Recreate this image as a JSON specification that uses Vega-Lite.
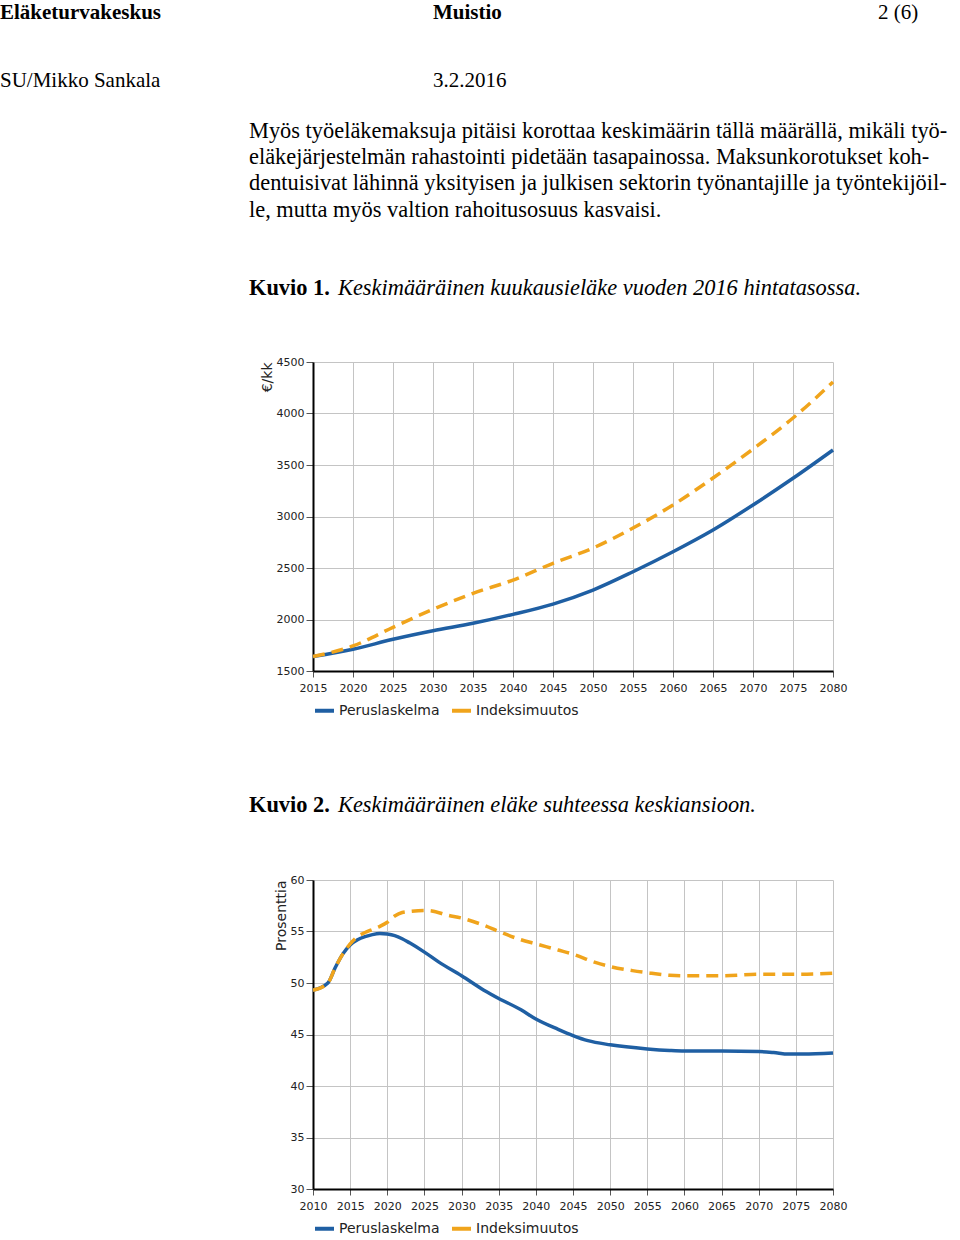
{
  "$schema": "https://vega.github.io/schema/vega-lite/v6.json",
  "background": "white",
  "padding": 0,
  "spacing": 209,
  "bounds": "flush",
  "resolve": {"legend": {"color": "independent"}},
  "vconcat": [
    {
      "width": 647,
      "height": 153,
      "data": {"values": [
        {"text": "Eläketurvakeskus", "role": "heading", "tab": 0, "line": 1},
        {"text": "Muistio", "role": "heading", "tab": 3, "line": 1},
        {"text": "2 (6)", "role": "plain", "tab": 4, "line": 1},
        {"text": "SU/Mikko Sankala", "role": "plain", "tab": 0, "line": 2},
        {"text": "3.2.2016", "role": "plain", "tab": 3, "line": 2},
        {"text": "Myös työeläkemaksuja pitäisi korottaa keskimäärin tällä määrällä, mikäli työ-", "role": "body", "tab": 1, "line": 3},
        {"text": "eläkejärjestelmän rahastointi pidetään tasapainossa. Maksunkorotukset koh-", "role": "body", "tab": 1, "line": 4},
        {"text": "dentuisivat lähinnä yksityisen ja julkisen sektorin työnantajille ja työntekijöil-", "role": "body", "tab": 1, "line": 5},
        {"text": "le, mutta myös valtion rahoitusosuus kasvaisi.", "role": "body", "tab": 1, "line": 6},
        {"text": "Kuvio 1.", "role": "label", "tab": 1, "line": 9},
        {"text": "Keskimääräinen kuukausieläke vuoden 2016 hintatasossa.", "role": "caption", "tab": 2, "line": 9},
        {"text": "Kuvio 2.", "role": "label", "tab": 1, "line": 29},
        {"text": "Keskimääräinen eläke suhteessa keskiansioon.", "role": "caption", "tab": 2, "line": 29}
      ]},
      "encoding": {
        "x": {"field": "tab", "type": "quantitative", "axis": null, "scale": {"domain": [0, 1, 2, 3, 4], "range": [-313, -64, 25, 120, 565]}},
        "y": {"field": "line", "type": "quantitative", "axis": null, "scale": {"domain": [1, 2, 3, 9, 29], "range": [19, 87, 138, 295, 812]}},
        "text": {"field": "text"}
      },
      "layer": [
        {"transform": [{"filter": "datum.role == 'heading'"}],
         "mark": {"type": "text", "align": "left", "baseline": "alphabetic", "font": "Liberation Serif", "fontSize": 21, "fontWeight": "bold", "color": "#000"}},
        {"transform": [{"filter": "datum.role == 'plain'"}],
         "mark": {"type": "text", "align": "left", "baseline": "alphabetic", "font": "Liberation Serif", "fontSize": 21, "color": "#000"}},
        {"transform": [{"filter": "datum.role == 'body'"}],
         "mark": {"type": "text", "align": "left", "baseline": "alphabetic", "font": "Liberation Serif", "fontSize": 22.4, "color": "#000"}},
        {"transform": [{"filter": "datum.role == 'label'"}],
         "mark": {"type": "text", "align": "left", "baseline": "alphabetic", "font": "Liberation Serif", "fontSize": 22.4, "fontWeight": "bold", "color": "#000"}},
        {"transform": [{"filter": "datum.role == 'caption'"}],
         "mark": {"type": "text", "align": "left", "baseline": "alphabetic", "font": "Liberation Serif", "fontSize": 22.4, "fontStyle": "italic", "color": "#000"}}
      ]
    },
    {
      "width": 520,
      "height": 309,
      "data": {"values": [
        {"year": 2015, "series": "Peruslaskelma", "value": 1640},
        {"year": 2020, "series": "Peruslaskelma", "value": 1711},
        {"year": 2025, "series": "Peruslaskelma", "value": 1808},
        {"year": 2030, "series": "Peruslaskelma", "value": 1891},
        {"year": 2035, "series": "Peruslaskelma", "value": 1963},
        {"year": 2040, "series": "Peruslaskelma", "value": 2050},
        {"year": 2045, "series": "Peruslaskelma", "value": 2150},
        {"year": 2050, "series": "Peruslaskelma", "value": 2286},
        {"year": 2055, "series": "Peruslaskelma", "value": 2464},
        {"year": 2060, "series": "Peruslaskelma", "value": 2658},
        {"year": 2065, "series": "Peruslaskelma", "value": 2869},
        {"year": 2070, "series": "Peruslaskelma", "value": 3112},
        {"year": 2075, "series": "Peruslaskelma", "value": 3371},
        {"year": 2080, "series": "Peruslaskelma", "value": 3646},
        {"year": 2015, "series": "Indeksimuutos", "value": 1640},
        {"year": 2020, "series": "Indeksimuutos", "value": 1743},
        {"year": 2025, "series": "Indeksimuutos", "value": 1924},
        {"year": 2030, "series": "Indeksimuutos", "value": 2099},
        {"year": 2035, "series": "Indeksimuutos", "value": 2254},
        {"year": 2040, "series": "Indeksimuutos", "value": 2383},
        {"year": 2045, "series": "Indeksimuutos", "value": 2546},
        {"year": 2050, "series": "Indeksimuutos", "value": 2694},
        {"year": 2055, "series": "Indeksimuutos", "value": 2888},
        {"year": 2060, "series": "Indeksimuutos", "value": 3112},
        {"year": 2065, "series": "Indeksimuutos", "value": 3374},
        {"year": 2070, "series": "Indeksimuutos", "value": 3655},
        {"year": 2075, "series": "Indeksimuutos", "value": 3956},
        {"year": 2080, "series": "Indeksimuutos", "value": 4306}
      ]},
      "encoding": {
        "x": {"field": "year", "type": "quantitative", "title": null,
              "scale": {"domain": [2015, 2080], "nice": false, "zero": false},
              "axis": {"values": [2015, 2020, 2025, 2030, 2035, 2040, 2045, 2050, 2055, 2060, 2065, 2070, 2075, 2080], "format": "d"}},
        "y": {"field": "value", "type": "quantitative", "title": "€/kk",
              "scale": {"domain": [1500, 4500], "nice": false, "zero": false},
              "axis": {"values": [1500, 2000, 2500, 3000, 3500, 4000, 4500], "format": "d"}},
        "color": {"field": "series", "type": "nominal", "title": null,
                  "scale": {"domain": ["Peruslaskelma", "Indeksimuutos"], "range": ["#1f5fa3", "#f0a41c"]}}
      },
      "layer": [
        {"transform": [{"filter": "datum.series == 'Peruslaskelma'"}],
         "mark": {"type": "line", "strokeWidth": 3.5, "interpolate": "monotone"}},
        {"transform": [{"filter": "datum.series == 'Indeksimuutos'"}],
         "mark": {"type": "line", "strokeWidth": 3.5, "interpolate": "monotone", "strokeDash": [12, 7]}}
      ]
    },
    {
      "width": 520,
      "height": 309,
      "data": {"values": [
        {"year": 2010, "series": "Peruslaskelma", "value": 49.3},
        {"year": 2012, "series": "Peruslaskelma", "value": 50.0},
        {"year": 2013, "series": "Peruslaskelma", "value": 51.5},
        {"year": 2014, "series": "Peruslaskelma", "value": 52.8},
        {"year": 2015, "series": "Peruslaskelma", "value": 53.7},
        {"year": 2016, "series": "Peruslaskelma", "value": 54.2},
        {"year": 2017, "series": "Peruslaskelma", "value": 54.5},
        {"year": 2018, "series": "Peruslaskelma", "value": 54.7},
        {"year": 2019, "series": "Peruslaskelma", "value": 54.8},
        {"year": 2020, "series": "Peruslaskelma", "value": 54.75},
        {"year": 2021, "series": "Peruslaskelma", "value": 54.6},
        {"year": 2022, "series": "Peruslaskelma", "value": 54.3},
        {"year": 2023, "series": "Peruslaskelma", "value": 53.9},
        {"year": 2025, "series": "Peruslaskelma", "value": 53.0},
        {"year": 2027, "series": "Peruslaskelma", "value": 52.0},
        {"year": 2030, "series": "Peruslaskelma", "value": 50.7},
        {"year": 2033, "series": "Peruslaskelma", "value": 49.3},
        {"year": 2035, "series": "Peruslaskelma", "value": 48.5},
        {"year": 2038, "series": "Peruslaskelma", "value": 47.4},
        {"year": 2040, "series": "Peruslaskelma", "value": 46.5},
        {"year": 2043, "series": "Peruslaskelma", "value": 45.5},
        {"year": 2045, "series": "Peruslaskelma", "value": 44.9},
        {"year": 2047, "series": "Peruslaskelma", "value": 44.4},
        {"year": 2050, "series": "Peruslaskelma", "value": 44.0},
        {"year": 2055, "series": "Peruslaskelma", "value": 43.6},
        {"year": 2058, "series": "Peruslaskelma", "value": 43.45},
        {"year": 2060, "series": "Peruslaskelma", "value": 43.4},
        {"year": 2065, "series": "Peruslaskelma", "value": 43.4},
        {"year": 2070, "series": "Peruslaskelma", "value": 43.35},
        {"year": 2072, "series": "Peruslaskelma", "value": 43.25},
        {"year": 2074, "series": "Peruslaskelma", "value": 43.1},
        {"year": 2076, "series": "Peruslaskelma", "value": 43.1},
        {"year": 2080, "series": "Peruslaskelma", "value": 43.2},
        {"year": 2010, "series": "Indeksimuutos", "value": 49.3},
        {"year": 2012, "series": "Indeksimuutos", "value": 50.0},
        {"year": 2013, "series": "Indeksimuutos", "value": 51.5},
        {"year": 2014, "series": "Indeksimuutos", "value": 52.8},
        {"year": 2015, "series": "Indeksimuutos", "value": 53.8},
        {"year": 2016, "series": "Indeksimuutos", "value": 54.5},
        {"year": 2017, "series": "Indeksimuutos", "value": 54.9},
        {"year": 2018, "series": "Indeksimuutos", "value": 55.2},
        {"year": 2019, "series": "Indeksimuutos", "value": 55.5},
        {"year": 2020, "series": "Indeksimuutos", "value": 55.9},
        {"year": 2021, "series": "Indeksimuutos", "value": 56.5},
        {"year": 2022, "series": "Indeksimuutos", "value": 56.85},
        {"year": 2023, "series": "Indeksimuutos", "value": 56.95},
        {"year": 2025, "series": "Indeksimuutos", "value": 57.05},
        {"year": 2026, "series": "Indeksimuutos", "value": 57.0},
        {"year": 2028, "series": "Indeksimuutos", "value": 56.6},
        {"year": 2030, "series": "Indeksimuutos", "value": 56.3},
        {"year": 2033, "series": "Indeksimuutos", "value": 55.6},
        {"year": 2035, "series": "Indeksimuutos", "value": 55.0},
        {"year": 2038, "series": "Indeksimuutos", "value": 54.2},
        {"year": 2040, "series": "Indeksimuutos", "value": 53.8},
        {"year": 2043, "series": "Indeksimuutos", "value": 53.2},
        {"year": 2045, "series": "Indeksimuutos", "value": 52.8},
        {"year": 2048, "series": "Indeksimuutos", "value": 52.0},
        {"year": 2050, "series": "Indeksimuutos", "value": 51.6},
        {"year": 2053, "series": "Indeksimuutos", "value": 51.2},
        {"year": 2055, "series": "Indeksimuutos", "value": 51.0},
        {"year": 2058, "series": "Indeksimuutos", "value": 50.75},
        {"year": 2060, "series": "Indeksimuutos", "value": 50.7},
        {"year": 2065, "series": "Indeksimuutos", "value": 50.7},
        {"year": 2070, "series": "Indeksimuutos", "value": 50.85},
        {"year": 2075, "series": "Indeksimuutos", "value": 50.85},
        {"year": 2080, "series": "Indeksimuutos", "value": 50.95}
      ]},
      "encoding": {
        "x": {"field": "year", "type": "quantitative", "title": null,
              "scale": {"domain": [2010, 2080], "nice": false, "zero": false},
              "axis": {"values": [2010, 2015, 2020, 2025, 2030, 2035, 2040, 2045, 2050, 2055, 2060, 2065, 2070, 2075, 2080], "format": "d"}},
        "y": {"field": "value", "type": "quantitative", "title": "Prosenttia",
              "scale": {"domain": [30, 60], "nice": false, "zero": false},
              "axis": {"values": [30, 35, 40, 45, 50, 55, 60], "format": "d"}},
        "color": {"field": "series", "type": "nominal", "title": null,
                  "scale": {"domain": ["Peruslaskelma", "Indeksimuutos"], "range": ["#1f5fa3", "#f0a41c"]}}
      },
      "layer": [
        {"transform": [{"filter": "datum.series == 'Peruslaskelma'"}],
         "mark": {"type": "line", "strokeWidth": 3.5, "interpolate": "monotone"}},
        {"transform": [{"filter": "datum.series == 'Indeksimuutos'"}],
         "mark": {"type": "line", "strokeWidth": 3.5, "interpolate": "monotone", "strokeDash": [12, 7]}}
      ]
    }
  ],
  "config": {
    "view": {"stroke": null},
    "axis": {
      "labelFont": "DejaVu Sans", "labelFontSize": 11, "labelColor": "#222",
      "titleFont": "DejaVu Sans", "titleFontSize": 14, "titleFontWeight": "normal", "titleColor": "#222",
      "domainColor": "#000", "domainWidth": 2,
      "tickColor": "#555", "tickWidth": 1,
      "gridColor": "#c4c4c4", "gridWidth": 1, "grid": true
    },
    "axisX": {"tickSize": 6, "labelPadding": 5, "labelFlush": false},
    "axisY": {"tickSize": 7, "labelPadding": 2, "titleAnchor": "end", "titlePadding": 2},
    "legend": {
      "orient": "bottom", "direction": "horizontal", "title": null,
      "symbolType": "stroke", "symbolStrokeWidth": 4, "symbolSize": 361,
      "labelFont": "DejaVu Sans", "labelFontSize": 14, "labelColor": "#222",
      "labelOffset": 3, "columnPadding": 4, "offset": 6
    }
  }
}
